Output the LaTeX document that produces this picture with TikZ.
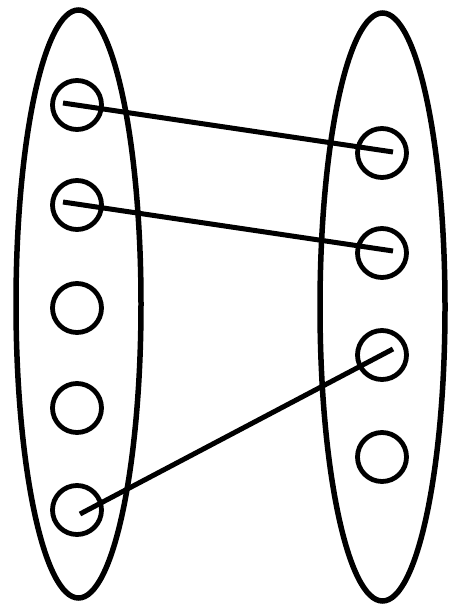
\documentclass[tikz,border=0pt]{standalone}
\usetikzlibrary{shapes.geometric}
\begin{document}
\begin{tikzpicture}[x=1pt,y=-1pt,
  set/.style={draw,ellipse,line width=5.5pt,inner sep=0pt,
    minimum width=125pt,minimum height=588pt},
  elem/.style={draw,circle,line width=4.8pt,inner sep=0pt,minimum size=49pt},
  match/.style={line width=5pt}
]
  \useasboundingbox (0,0) rectangle (449,607);
  \node[set] (setA) at (78.5,304) {};
  \node[set] (setB) at (382.5,307) {};
  \foreach \i/\y in {1/105,2/205,3/308,4/408,5/510}
    {\node[elem] (a\i) at (77,\y) {};}
  \foreach \i/\y in {1/153,2/253,3/355,4/457}
    {\node[elem] (b\i) at (382,\y) {};}
  \draw[match] ([shift={(-14,-2)}]a1.center) -- ([shift={(11,-1)}]b1.center);
  \draw[match] ([shift={(-14,-3)}]a2.center) -- ([shift={(11,-2)}]b2.center);
  \draw[match] ([shift={(3,4)}]a5.center) -- ([shift={(11,-6)}]b3.center);
\end{tikzpicture}
\end{document}
